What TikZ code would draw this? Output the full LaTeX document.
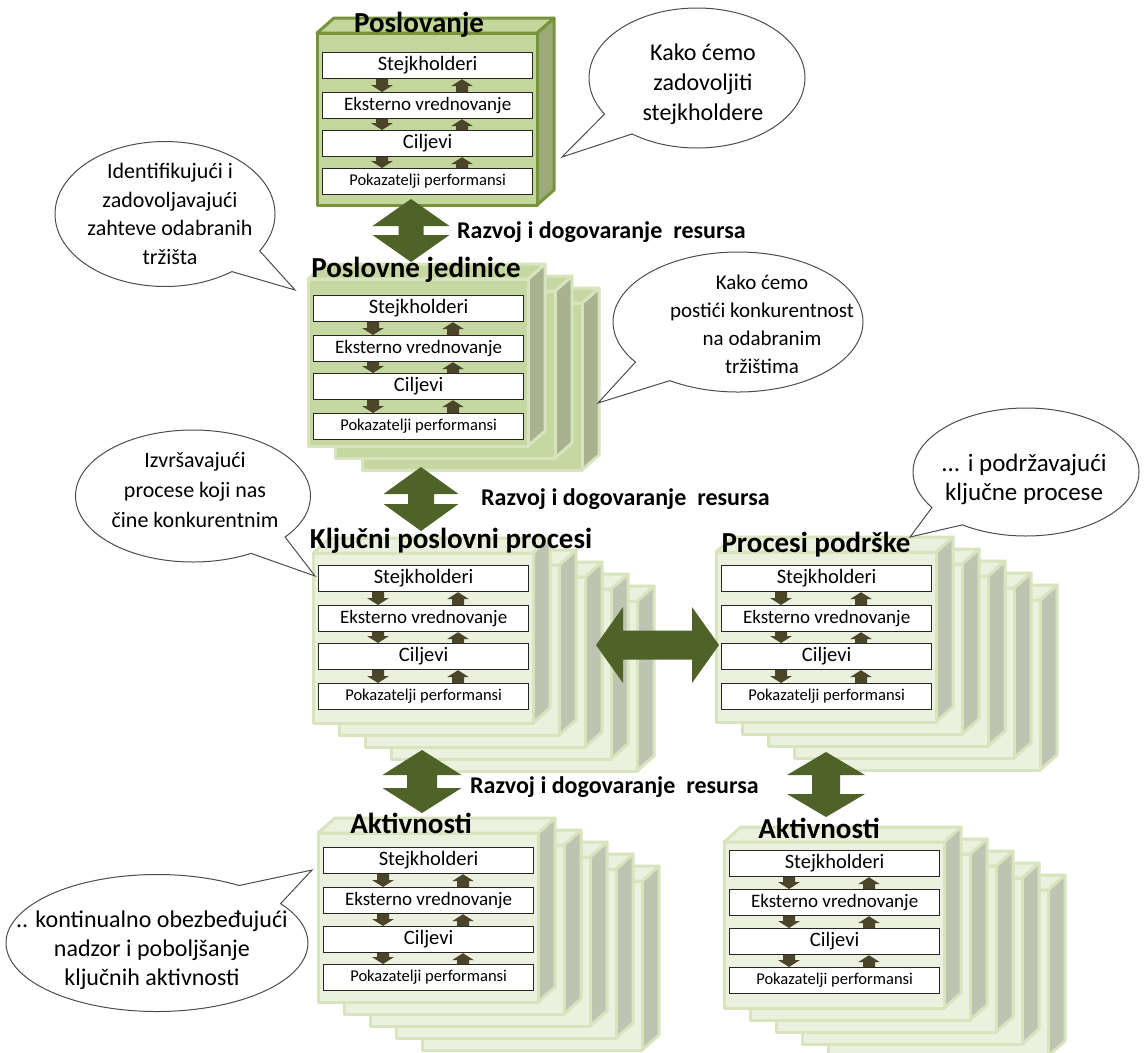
\documentclass[tikz,border=0pt]{standalone}
\usepackage{fontspec}
\setmainfont{Carlito}
\usetikzlibrary{shapes.callouts,calc}

% colour scheme: top block
\definecolor{posfront}{HTML}{C3D69B}
\definecolor{posside}{HTML}{9AAA79}
\definecolor{posborder}{HTML}{77933C}
% business units
\definecolor{pjfront}{HTML}{C6D8A2}
\definecolor{pjside}{HTML}{A8B28F}
\definecolor{pjborder}{HTML}{D7E4BD}
% processes and activities
\definecolor{ltfront}{HTML}{EBF1DE}
\definecolor{ltside}{HTML}{BFC4B2}
\definecolor{ltborder}{HTML}{D7E4BD}
% arrows
\definecolor{arrbrown}{HTML}{4B4629}
\definecolor{bigolive}{HTML}{4F6228}

\newcommand\boxfontA{\fontsize{20.5}{24}\selectfont}
\newcommand\boxfontB{\fontsize{19}{23}\selectfont}
\newcommand\boxfontC{\fontsize{16.5}{20}\selectfont}

% one cuboid layer: x, y (front top-left), width, height, colour scheme
\newcommand\layer[5]{%
  \filldraw[fill=#5side,draw=#5border,faceline] ({#1+#3},{#2}) -- ++(17,-15) -- ++(0,{#4}) -- ++(-17,15) -- cycle;
  \filldraw[fill=#5front,draw=#5border,faceline] ({#1},{#2}) -- ++(17,-15) -- ++({#3},0) -- ++(-17,15) -- cycle;
  \filldraw[fill=#5front,draw=#5border,faceline] ({#1},{#2}) rectangle ++({#3},{#4});}

% a stack of layers: x, y, w, h, layer indices (back first), dx, dy, scheme
\newcommand\stack[8]{%
  \foreach \i in {#5}{\layer{#1+#6*\i}{#2+#7*\i}{#3}{#4}{#8}}}

% small block arrows between the inner boxes
\newcommand\smalldownarrow[2]{%
  \fill[arrbrown] ([xshift=-6pt]#1) -- ([xshift=6pt]#1) -- ([xshift=6pt,yshift=7pt]#2)
    -- ([xshift=11pt,yshift=7pt]#2) -- (#2) -- ([xshift=-11pt,yshift=7pt]#2)
    -- ([xshift=-6pt,yshift=7pt]#2) -- cycle;}
\newcommand\smalluparrow[2]{%
  \fill[arrbrown] ([xshift=-6pt]#1) -- ([xshift=6pt]#1) -- ([xshift=6pt,yshift=-7pt]#2)
    -- ([xshift=11pt,yshift=-7pt]#2) -- (#2) -- ([xshift=-11pt,yshift=-7pt]#2)
    -- ([xshift=-6pt,yshift=-7pt]#2) -- cycle;}

% column of four boxes with arrows: prefix, x, y1..y4
\newcommand\boxcolumn[6]{%
  \node[innerbox,font=\boxfontA] (#1s) at (#2,#3) {Stejkholderi};
  \node[innerbox,font=\boxfontB] (#1e) at (#2,#4) {Eksterno vrednovanje};
  \node[innerbox,font=\boxfontA] (#1c) at (#2,#5) {Ciljevi};
  \node[innerbox,font=\boxfontC] (#1p) at (#2,#6) {Pokazatelji performansi};
  \foreach \a/\b in {s/e,e/c,c/p}{
    \coordinate (#1\a-d1) at ([xshift=60pt]#1\a.south west);
    \coordinate (#1\a-d2) at ([xshift=60pt]#1\b.north west);
    \coordinate (#1\a-u1) at ([xshift=140pt]#1\b.north west);
    \coordinate (#1\a-u2) at ([xshift=140pt]#1\a.south west);
    \smalldownarrow{#1\a-d1}{#1\a-d2}
    \smalluparrow{#1\a-u1}{#1\a-u2}
  }}

% large double-headed arrows: ends, half head width, head length, half shaft width
\newcommand\bigvarrow[5]{%
  \fill[bigolive] (#1) -- ([xshift=#3pt,yshift=-#4pt]#1) -- ([xshift=#5pt,yshift=-#4pt]#1)
    -- ([xshift=#5pt,yshift=#4pt]#2) -- ([xshift=#3pt,yshift=#4pt]#2) -- (#2)
    -- ([xshift=-#3pt,yshift=#4pt]#2) -- ([xshift=-#5pt,yshift=#4pt]#2)
    -- ([xshift=-#5pt,yshift=-#4pt]#1) -- ([xshift=-#3pt,yshift=-#4pt]#1) -- cycle;}
\newcommand\bigharrow[5]{%
  \fill[bigolive] (#1) -- ([xshift=#4pt,yshift=#3pt]#1) -- ([xshift=#4pt,yshift=#5pt]#1)
    -- ([xshift=-#4pt,yshift=#5pt]#2) -- ([xshift=-#4pt,yshift=#3pt]#2) -- (#2)
    -- ([xshift=-#4pt,yshift=-#3pt]#2) -- ([xshift=-#4pt,yshift=-#5pt]#2)
    -- ([xshift=#4pt,yshift=-#5pt]#1) -- ([xshift=#4pt,yshift=-#3pt]#1) -- cycle;}

\begin{document}
\begin{tikzpicture}[x=1pt,y=-1pt,
  faceline/.style={line width=3pt,line join=round},
  innerbox/.style={draw=black!85,line width=1.2pt,fill=white,anchor=north west,
    minimum width=210pt,minimum height=26pt,inner sep=0pt},
  blocktitle/.style={font=\bfseries\fontsize{29}{33}\selectfont,anchor=base,inner sep=0pt},
  flowlabel/.style={font=\bfseries\fontsize{24}{28}\selectfont,anchor=base west,inner sep=0pt},
  bubble/.style={ellipse callout,draw=black!70,line width=1pt,fill=white,inner sep=0pt,
    callout pointer arc=22},
  bubbletext/.style={align=center,inner sep=0pt}]
\useasboundingbox (0,0) rectangle (1145,1052);
\clip (0,0) rectangle (1145,1052);

% ---- level 1: business
\layer{317}{33}{220}{172}{pos}
\boxcolumn{a}{322}{52}{92}{130}{168}

% ---- level 2: business units
\stack{308}{279}{220}{167}{2,1,0}{27}{12}{pj}
\boxcolumn{b}{313}{295}{335}{373}{413}

% ---- level 3: key processes and support processes
\stack{313}{553}{220}{170}{4,3,2,1,0}{26}{12}{lt}
\boxcolumn{c}{318}{565}{605}{643}{683}
\stack{716}{552}{220}{170}{4,3,2,1,0}{26}{12}{lt}
\boxcolumn{d}{721}{565}{605}{643}{683}

% ---- level 4: activities
\stack{318}{833}{220}{169}{4,3,2,1,0}{26}{12}{lt}
\boxcolumn{e}{323}{847}{887}{926}{964}
\stack{724}{842}{220}{166}{4,3,2,1,0}{26}{12}{lt}
\boxcolumn{f}{729}{850}{889}{928}{967}

% ---- large arrows between levels
\coordinate (v1a) at (411,199); \coordinate (v1b) at (411,262);
\bigvarrow{v1a}{v1b}{38.5}{27}{12.5}
\coordinate (v2a) at (421,467); \coordinate (v2b) at (421,531);
\bigvarrow{v2a}{v2b}{37.5}{27}{13}
\coordinate (v3a) at (422,750); \coordinate (v3b) at (422,813);
\bigvarrow{v3a}{v3b}{39.5}{25}{15}
\coordinate (v4a) at (826,752); \coordinate (v4b) at (826,817);
\bigvarrow{v4a}{v4b}{39}{23}{14}
\coordinate (h1a) at (596,645); \coordinate (h1b) at (719,645);
\bigharrow{h1a}{h1b}{38}{27}{14.5}

% ---- titles
\node[blocktitle] (t1) at (419,32) {Poslovanje};
\node[blocktitle] (t2) at (416,277) {Poslovne jedinice};
\node[blocktitle] (t3) at (451,548) {Ključni poslovni procesi};
\node[blocktitle] (t4) at (816,552) {Procesi podrške};
\node[blocktitle] (t5) at (411,833) {Aktivnosti};
\node[blocktitle] (t6) at (819,838) {Aktivnosti};

\node[flowlabel] (l1) at (457,238) {Razvoj i dogovaranje~ resursa};
\node[flowlabel] (l2) at (481,505) {Razvoj i dogovaranje~ resursa};
\node[flowlabel] (l3) at (470,793) {Razvoj i dogovaranje~ resursa};

% ---- speech bubbles
\node[bubble,minimum width=216pt,minimum height=140pt,callout absolute pointer={(562,157)}] (b1) at (697,78) {};
\node[bubbletext,font=\fontsize{24}{30}\selectfont] (b1t) at (703,84) {Kako ćemo\\zadovoljiti\\stejkholdere};

\node[bubble,minimum width=220pt,minimum height=145pt,callout absolute pointer={(295,290)}] (b2) at (165,214) {};
\node[bubbletext,font=\fontsize{22}{28.5}\selectfont] (b2t) at (170,214) {Identifikujući i\\zadovoljavajući\\zahteve odabranih\\tržišta};

\node[bubble,minimum width=250pt,minimum height=140pt,callout absolute pointer={(598,403)}] (b3) at (738,322) {};
\node[bubbletext,font=\fontsize{21}{28}\selectfont] (b3t) at (762,324) {Kako ćemo\\postići konkurentnost\\na odabranim\\tržištima};

\node[bubble,minimum width=235pt,minimum height=132pt,callout absolute pointer={(315,576)}] (b4) at (193,496) {};
\node[bubbletext,font=\fontsize{22}{30}\selectfont] (b4t) at (195,490) {Izvršavajući\\procese koji nas\\čine konkurentnim};

\node[bubble,minimum width=226pt,minimum height=128pt,callout absolute pointer={(910,537)}] (b5) at (1026,472) {};
\node[bubbletext,font=\fontsize{25}{29}\selectfont] (b5t) at (1024,479) {... i podržavajući\\ključne procese};

\node[bubble,minimum width=302pt,minimum height=137pt,callout absolute pointer={(312,870)}] (b6) at (157,943) {};
\node[bubbletext,font=\fontsize{24}{29}\selectfont] (b6t) at (152,950) {.. kontinualno obezbeđujući\\nadzor i poboljšanje\\ključnih aktivnosti};
\end{tikzpicture}
\end{document}
